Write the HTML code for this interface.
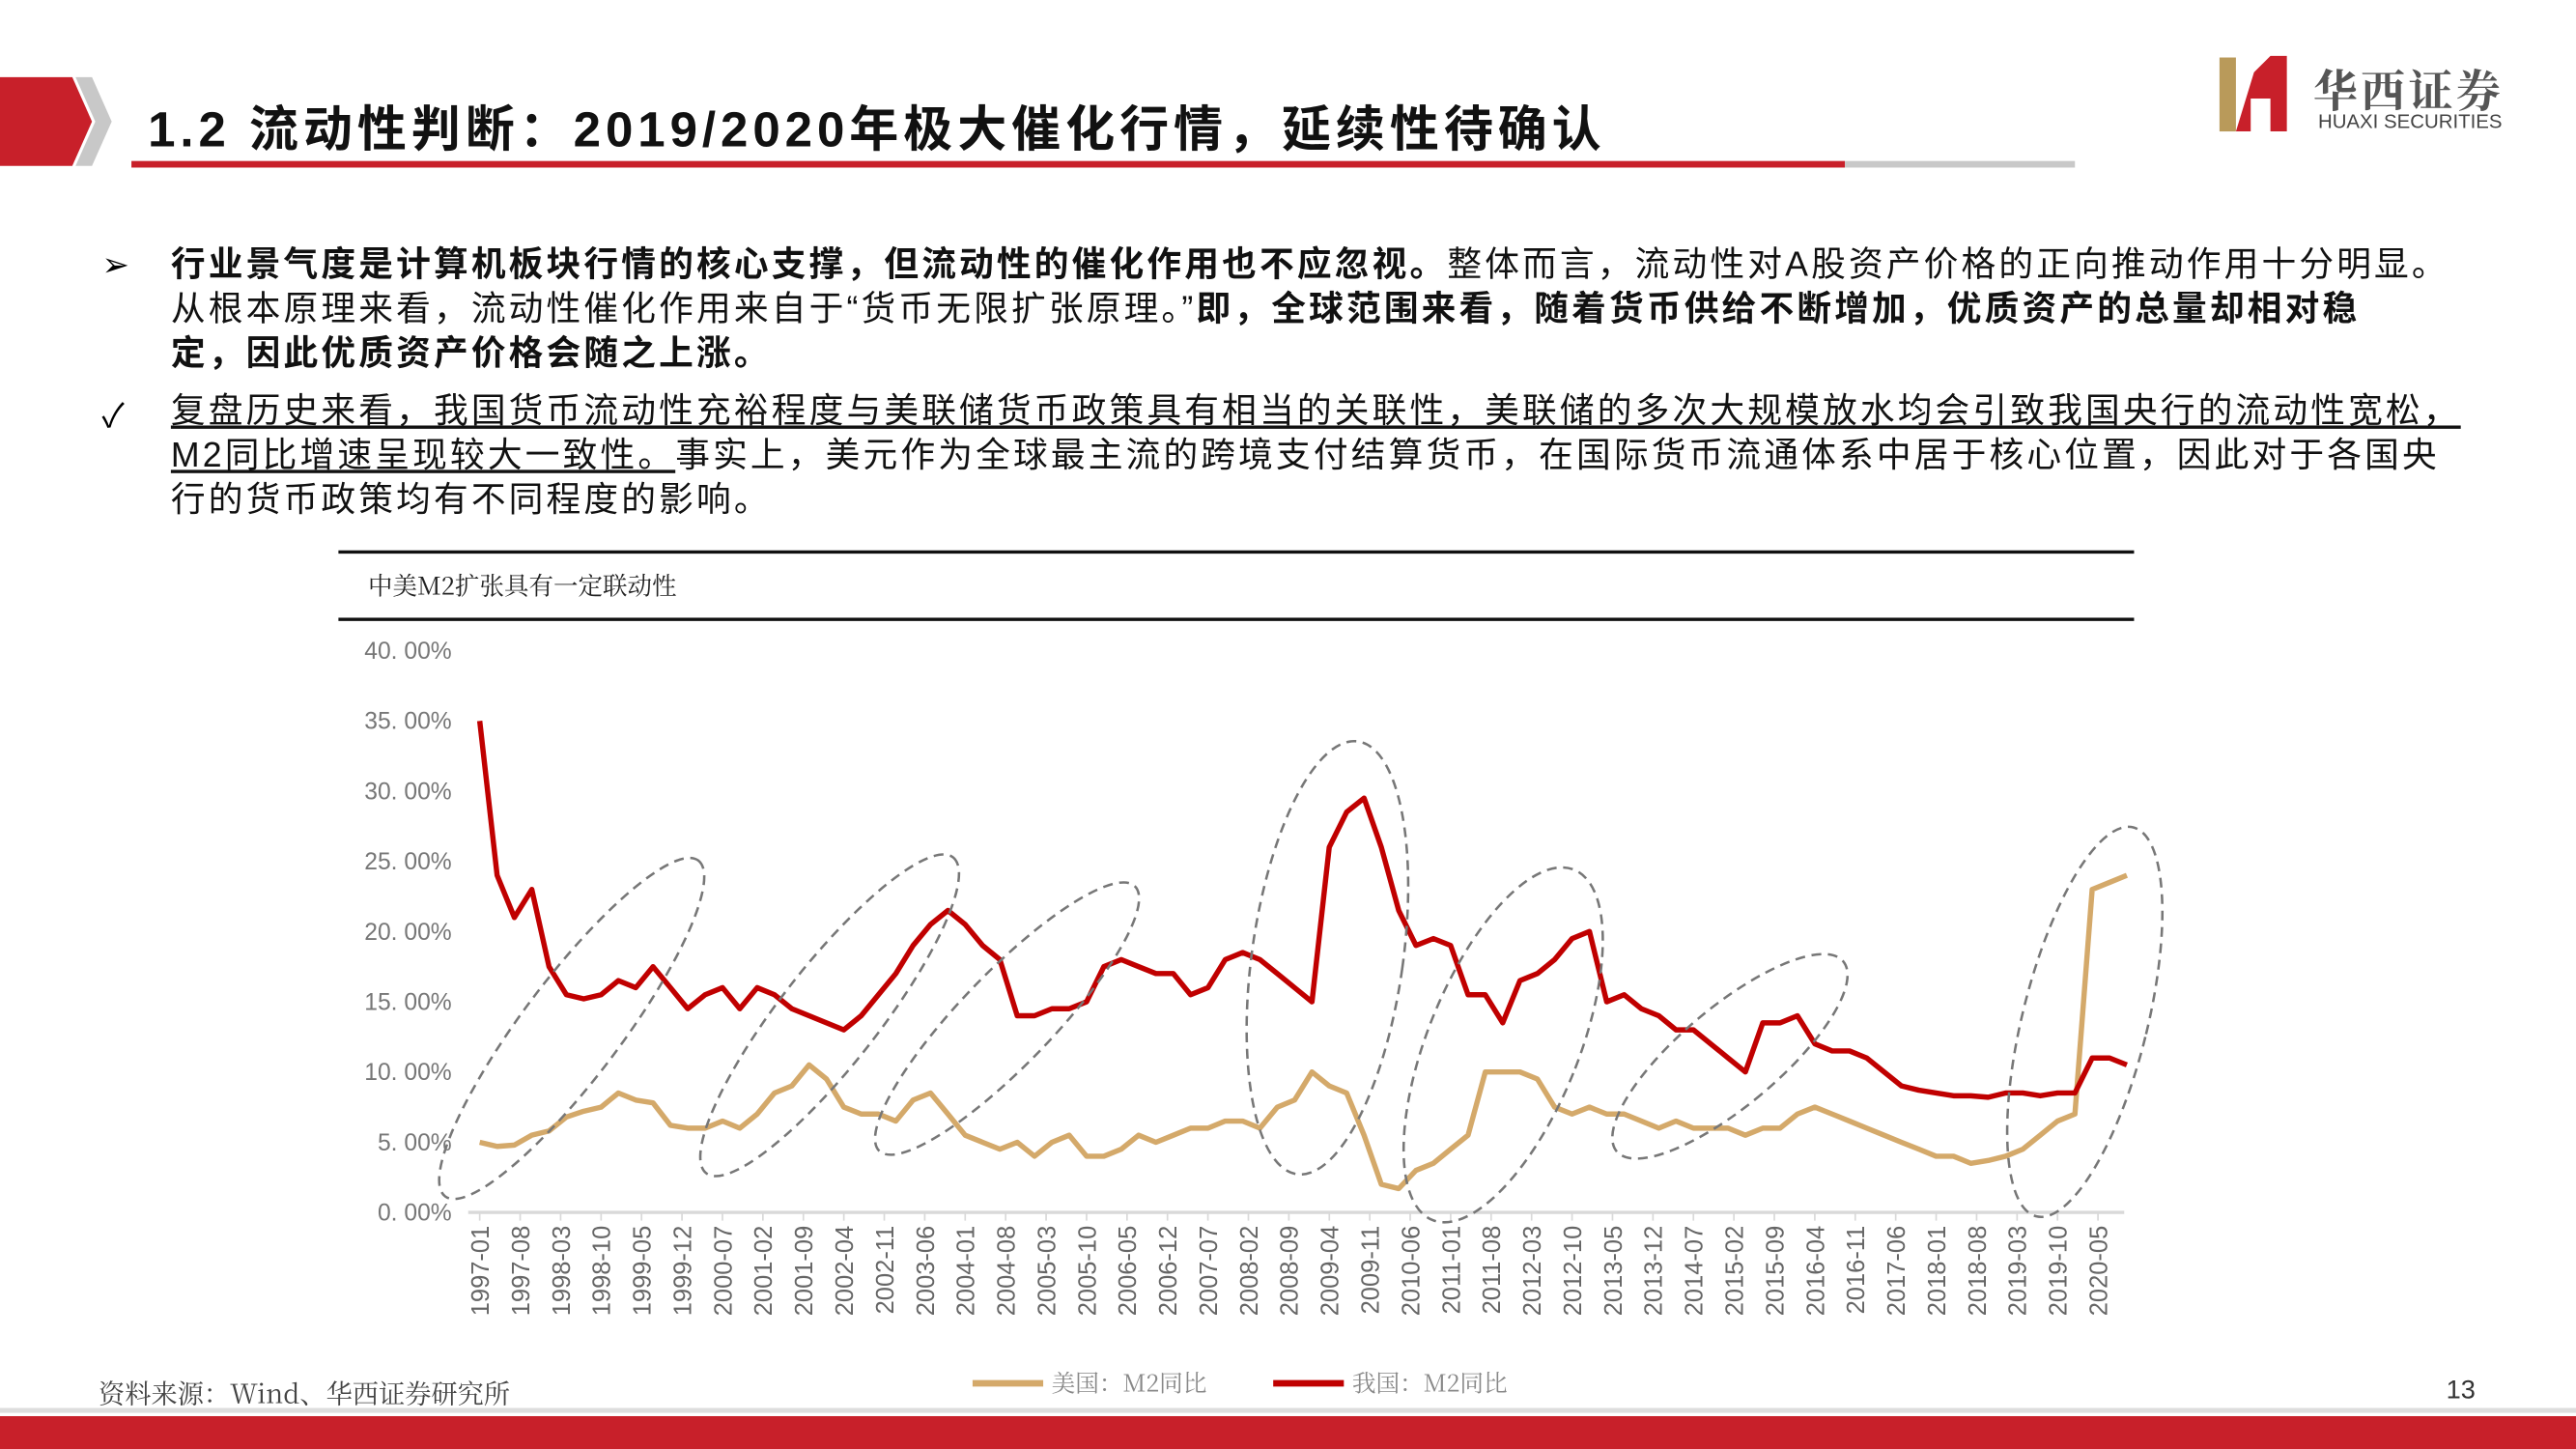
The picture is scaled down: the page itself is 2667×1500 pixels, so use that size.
<!DOCTYPE html>
<html><head><meta charset="utf-8">
<style>
html,body{margin:0;padding:0;background:#fff;overflow:hidden}
body{width:2667px;height:1500px}
#wrap{width:1568px;height:882px;transform:scale(1.70089,1.70068);transform-origin:0 0;position:relative;font-family:"Liberation Sans","Noto Sans CJK SC",sans-serif}
.t{position:absolute;white-space:nowrap}
.b{font-size:21px;letter-spacing:1.85px;color:#111;left:104px;line-height:27px}
</style></head><body>
<div id="wrap">
<svg class="t" style="left:0;top:0" width="1568" height="882">
<polygon points="0,47 44,47 56,74 44,101 0,101" fill="#c8202a"/>
<polygon points="46,47 56,47 68,74 56,101 46,101 58,74" fill="#c8c8c8"/>
<rect x="80" y="98" width="1043" height="4" fill="#c8202a"/>
<rect x="1123" y="98" width="140" height="4" fill="#c8c8c8"/>
<rect x="1351" y="35" width="10" height="45" fill="#b99a5a"/>
<polygon points="1361,80 1372,44 1382,34 1392,34 1392,80 1382,80 1382,60 1370,60 1370,80" fill="#c8202a"/>
<rect x="206" y="335" width="1093" height="2" fill="#111"/>
<rect x="206" y="376" width="1093" height="2" fill="#111"/>
<rect x="0" y="857" width="1568" height="3" fill="#ddd"/>
<rect x="0" y="862" width="1568" height="20" fill="#c8202a"/>
</svg>
<div class="t" style="left:90px;top:54px;font-size:30px;letter-spacing:2.9px;font-weight:bold;color:#111">1.2 流动性判断：2019/2020年极大催化行情，延续性待确认</div>
<div class="t" style="left:1408px;top:34px;font-size:27px;color:#555;font-family:'Noto Serif CJK SC',serif;font-weight:bold;letter-spacing:2px">华西证券</div>
<div class="t" style="left:1411px;top:67px;font-size:12px;color:#444">HUAXI SECURITIES</div>
<div class="t" style="left:62px;top:149px;font-size:20px">➢</div>
<div class="t b" style="top:148px"><b>行业景气度是计算机板块行情的核心支撑，但流动性的催化作用也不应忽视。</b>整体而言，流动性对A股资产价格的正向推动作用十分明显。<br>从根本原理来看，流动性催化作用来自于“货币无限扩张原理。”<b>即，全球范围来看，随着货币供给不断增加，优质资产的总量却相对稳<br>定，因此优质资产价格会随之上涨。</b></div>
<div class="t" style="left:62px;top:237px;font-size:20px">✓</div>
<div class="t b" style="top:237px"><u>复盘历史来看，我国货币流动性充裕程度与美联储货币政策具有相当的关联性，美联储的多次大规模放水均会引致我国央行的流动性宽松，<br>M2同比增速呈现较大一致性。</u>事实上，美元作为全球最主流的跨境支付结算货币，在国际货币流通体系中居于核心位置，因此对于各国央<br>行的货币政策均有不同程度的影响。</div>
<div class="t" style="left:224px;top:346px;font-size:15px;color:#222;font-family:'Noto Serif CJK SC',serif">中美M2扩张具有一定联动性</div>
<svg id="chart" class="t" style="left:0;top:0" width="1568" height="882"></svg>
<div class="t" style="left:60px;top:836px;font-size:16px;color:#444;font-family:'Noto Serif CJK SC',serif">资料来源：Wind、华西证券研究所</div>
<div class="t" style="left:1489px;top:838px;font-size:16px;color:#333">13</div>
</div>
<script>
const yTicks=[0,5,10,15,20,25,30,35,40];
const startYear=1997;
// quarterly values, 1997Q1 .. 2020Q4 (first month of each quarter)
const chinaM2=[35,24,21,23,17.5,15.5,15.2,15.5,16.5,16,17.5,16,14.5,15.5,16,14.5,16,15.5,14.5,14,13.5,13,14,15.5,17,19,20.5,21.5,20.5,19,18,14,14,14.5,14.5,15,17.5,18,17.5,17,17,15.5,16,18,18.5,18,17,16,15,26,28.5,29.5,26,21.5,19,19.5,19,15.5,15.5,13.5,16.5,17,18,19.5,20,15,15.5,14.5,14,13,13,12,11,10,13.5,13.5,14,12,11.5,11.5,11,10,9,8.7,8.5,8.3,8.3,8.2,8.5,8.5,8.3,8.5,8.5,11,11,10.5];
const usM2=[5,4.7,4.8,5.5,5.8,6.8,7.2,7.5,8.5,8,7.8,6.2,6,6,6.5,6,7,8.5,9,10.5,9.5,7.5,7,7,6.5,8,8.5,7,5.5,5,4.5,5,4,5,5.5,4,4,4.5,5.5,5,5.5,6,6,6.5,6.5,6,7.5,8,10,9,8.5,5.5,2,1.7,3,3.5,4.5,5.5,10,10,10,9.5,7.5,7,7.5,7,7,6.5,6,6.5,6,6,6,5.5,6,6,7,7.5,7,6.5,6,5.5,5,4.5,4,4,3.5,3.7,4,4.5,5.5,6.5,7,23,23.5,24];
const ellipses=[[348,626,128,30,-53],[505,618,122,30,-52],[613,620,112,28,-46],[808,583,46,133,8],[915,636,46,115,22],[1053,643,30,90,50],[1269,622,38,122,14]];
const svg=document.getElementById('chart');const NS='http://www.w3.org/2000/svg';
const X0=292,PM=3.518,Y0=738,PY=8.55;
const xs=m=>X0+m*PM, ys=v=>Y0-v*PY;
function mk(t,a){const e=document.createElementNS(NS,t);for(const k in a)e.setAttribute(k,a[k]);svg.appendChild(e);return e;}
yTicks.forEach(v=>{const t=mk('text',{x:275,y:ys(v)+5,'text-anchor':'end','font-size':14.5,fill:'#777','font-family':'Liberation Sans'});t.textContent=v.toFixed(2).replace('.','. ')+'%';

});
const ax=mk('line',{x1:285,x2:1293,y1:Y0,y2:Y0,stroke:'#d9d9d9','stroke-width':2});


for(let m=0;m<=285;m+=7){const x=xs(m);const tk=mk('line',{x1:x,x2:x,y1:Y0,y2:Y0+5,stroke:'#d9d9d9'});


const y=startYear+Math.floor(m/12),mo=m%12+1;const t=mk('text',{transform:`translate(${x+5.5},${Y0+8}) rotate(-90)`,'text-anchor':'end','font-size':15,fill:'#666','font-family':'Liberation Sans'});t.textContent=y+'-'+String(mo).padStart(2,'0');

}
function line(arr,c,n){const p=arr.map((v,i)=>xs(i*3).toFixed(1)+','+ys(v).toFixed(1)).join(' ');const e=mk('polyline',{points:p,fill:'none',stroke:c,'stroke-width':3.2,'stroke-linejoin':'round'});

}
line(usM2,'#d4a96a','us-m2-line');
line(chinaM2,'#c00000','china-m2-line');
ellipses.forEach(a=>{const e=mk('ellipse',{cx:a[0],cy:a[1],rx:a[2],ry:a[3],transform:`rotate(${a[4]} ${a[0]} ${a[1]})`,fill:'none',stroke:'#777','stroke-width':1.5,'stroke-dasharray':'6 4'});

});
[[592,'#d4a96a','美国：M2同比','legend-us'],[775,'#c00000','我国：M2同比','legend-china']].forEach(l=>{const g=mk('line',{x1:l[0],x2:l[0]+43,y1:842,y2:842,stroke:l[1],'stroke-width':4});


const t=mk('text',{x:l[0]+48,y:847,'font-size':14.5,fill:'#888','font-family':'Noto Serif CJK SC, serif'});t.textContent=l[2];

});
</script>
</body></html>
